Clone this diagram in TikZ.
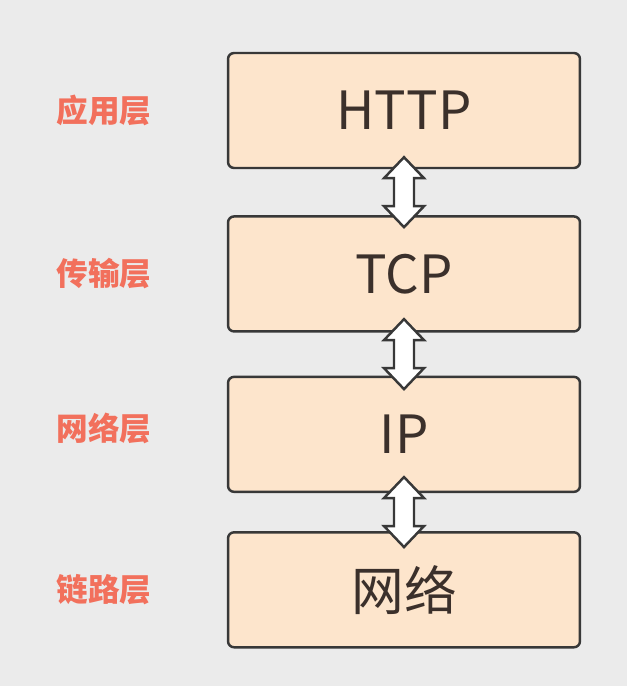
\documentclass[tikz,border=0pt]{standalone}
\usepackage{fontspec}
\setmainfont{Noto Sans CJK SC}
\usetikzlibrary{positioning,calc}
\definecolor{backdrop}{HTML}{EBEBEB}
\definecolor{peach}{HTML}{FDE5CC}
\definecolor{edge}{HTML}{383838}
\definecolor{ink}{HTML}{3B302B}
\definecolor{salmon}{HTML}{F2705C}

\begin{document}
\begin{tikzpicture}[x=0.02cm,y=-0.02cm,
  layer/.style={draw=edge,fill=peach,line width=1.4pt,rounded corners=0.12cm,
    minimum width=7.04cm,minimum height=2.3cm,text=ink,
    font=\fontsize{30}{36}\selectfont},
  tag/.style={text=salmon,inner sep=0pt,font=\fontsize{18}{21}\selectfont\bfseries},
  dblarr/.style={draw=edge,fill=white,line width=1.4pt}]
\fill[backdrop] (0,0) rectangle (627,686);
% stack of layers
\node[layer] (http) at (404,110.5) {HTTP};
\node[layer,below=0.92cm of http] (tcp) {TCP};
\node[layer,below=0.86cm of tcp] (ip) {IP};
\node[layer,below=0.76cm of ip] (net) {网络};
% layer names
\node[tag,left=1.5cm of http] (lapp) {应用层};
\node[tag,left=1.5cm of tcp] (ltrans) {传输层};
\node[tag,left=1.5cm of ip,yshift=0.12cm] (lnet) {网络层};
\node[tag,left=1.5cm of net] (llink) {链路层};
% two-way arrows between layers
\foreach \a/\b in {http/tcp,tcp/ip,ip/net}{
  \coordinate (mid) at ($(\a.south)!0.5!(\b.north)$);
  \draw[dblarr,shift={(mid)}] (0,-35) -- (20,-14) -- (10,-14) -- (10,14) -- (20,14)
    -- (0,35) -- (-20,14) -- (-10,14) -- (-10,-14) -- (-20,-14) -- cycle;
}
\end{tikzpicture}
\end{document}
